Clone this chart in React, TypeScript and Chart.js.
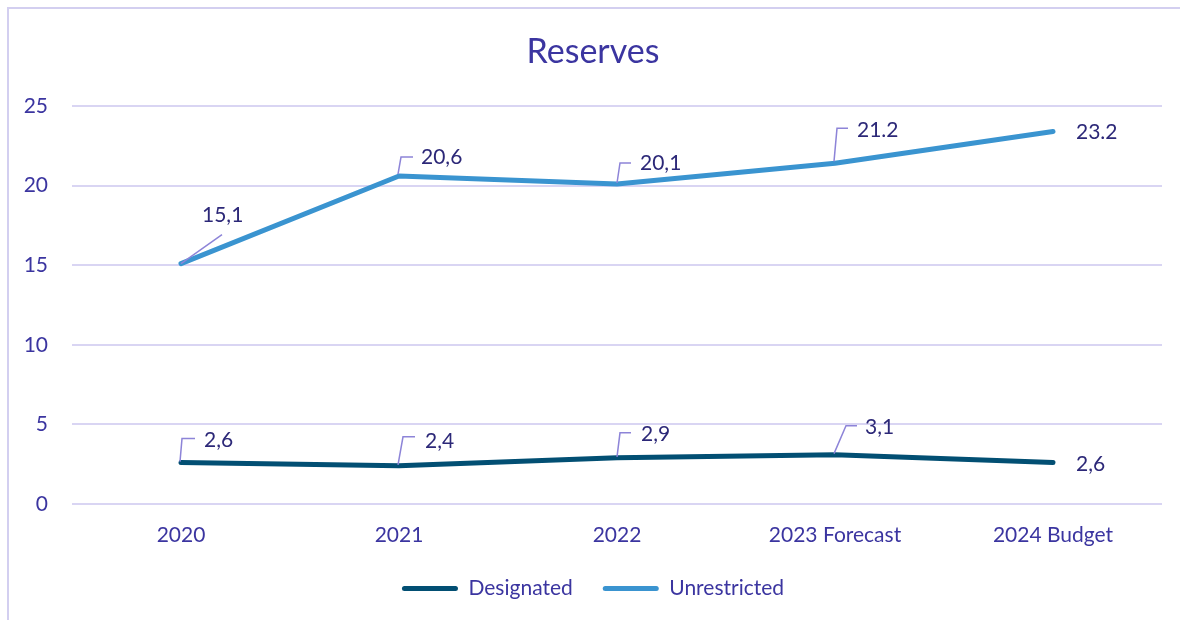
import React, { useEffect, useRef } from "react";
import { Chart, registerables } from "chart.js";

Chart.register(...registerables);

const categories = ["2020", "2021", "2022", "2023 Forecast", "2024 Budget"];
const designated = [2.6, 2.4, 2.9, 3.1, 2.6];
const unrestricted = [15.1, 20.6, 20.1, 21.4, 23.4];
const designatedLabels = ["2,6", "2,4", "2,9", "3,1", "2,6"];
const unrestrictedLabels = ["15,1", "20,6", "20,1", "21.2", "23.2"];
const yMin = 0;
const yMax = 25;
const yStep = 5;

const FONT = "Lato, 'Open Sans', sans-serif";
const TEXT = "#3b35a0";
const LABEL_TEXT = "#2c2878";
const LEADER = "#8d84d8";
const GRID = "#d9d5f3";
const DESIGNATED_COLOR = "#024f73";
const UNRESTRICTED_COLOR = "#3a94d0";

type Place = { dx: number; dy: number; leader: number[][] };

// label placement (style only): text left/center offset and leader polyline relative to point
const designatedPlace: Place[] = [
  { dx: 23, dy: -22, leader: [[-1, -1], [1, -24], [14, -24]] },
  { dx: 26, dy: -25, leader: [[-1, -1], [4, -29], [16, -29]] },
  { dx: 24, dy: -24, leader: [[0, -1], [3, -25], [14, -25]] },
  { dx: 30, dy: -27, leader: [[-1, -1], [11, -29], [22, -29]] },
  { dx: 23, dy: 2, leader: [] },
];
const unrestrictedPlace: Place[] = [
  { dx: 21, dy: -48, leader: [[0, 0], [41, -29]] },
  { dx: 22, dy: -19, leader: [[-1, -2], [2, -19], [14, -19]] },
  { dx: 23, dy: -21, leader: [[0, -1], [3, -21], [14, -21]] },
  { dx: 22, dy: -33, leader: [[-1, -2], [2, -35], [13, -35]] },
  { dx: 23, dy: 1, leader: [] },
];

const dataLabelPlugin = {
  id: "dataLabels",
  afterDatasetsDraw(chart: any) {
    const ctx = chart.ctx;
    const sets = [
      { labels: designatedLabels, place: designatedPlace },
      { labels: unrestrictedLabels, place: unrestrictedPlace },
    ];
    ctx.save();
    sets.forEach((s, di) => {
      const meta = chart.getDatasetMeta(di);
      meta.data.forEach((pt: any, i: number) => {
        const p = s.place[i];
        if (p.leader.length > 1) {
          ctx.beginPath();
          ctx.strokeStyle = LEADER;
          ctx.lineWidth = 1.5;
          p.leader.forEach((q, k) => {
            const x = pt.x + q[0];
            const y = pt.y + q[1];
            if (k === 0) ctx.moveTo(x, y);
            else ctx.lineTo(x, y);
          });
          ctx.stroke();
        }
        ctx.fillStyle = LABEL_TEXT;
        ctx.font = `21px ${FONT}`;
        ctx.textAlign = "left";
        ctx.textBaseline = "middle";
        ctx.fillText(s.labels[i], pt.x + p.dx, pt.y + p.dy);
      });
    });
    ctx.restore();
  },
};

export default function App() {
  const ref = useRef<HTMLCanvasElement | null>(null);

  useEffect(() => {
    if (!ref.current) return;
    const chart = new Chart(ref.current, {
      type: "line",
      data: {
        labels: categories,
        datasets: [
          {
            label: "Designated",
            data: designated,
            borderColor: DESIGNATED_COLOR,
            backgroundColor: DESIGNATED_COLOR,
            borderWidth: 5,
            pointRadius: 0,
            borderCapStyle: "round",
            borderJoinStyle: "round",
            tension: 0,
          },
          {
            label: "Unrestricted",
            data: unrestricted,
            borderColor: UNRESTRICTED_COLOR,
            backgroundColor: UNRESTRICTED_COLOR,
            borderWidth: 5,
            pointRadius: 0,
            borderCapStyle: "round",
            borderJoinStyle: "round",
            tension: 0,
          },
        ],
      },
      options: {
        responsive: false,
        animation: false,
        layout: { padding: { left: 24, right: 18, top: 0, bottom: 11 } },
        plugins: {
          tooltip: { enabled: false },
          title: {
            display: true,
            text: "Reserves",
            color: TEXT,
            font: { family: FONT, size: 34, weight: "normal" },
            padding: { top: 31.6, bottom: 33.6 },
          },
          legend: {
            display: true,
            position: "bottom",
            labels: {
              color: TEXT,
              font: { family: FONT, size: 21 },
              boxWidth: 56,
              boxHeight: 5,
              padding: 30,
              useBorderRadius: true,
              borderRadius: 2.5,
              generateLabels: (c: any) =>
                c.data.datasets.map((ds: any, i: number) => ({
                  text: ds.label,
                  fillStyle: ds.borderColor,
                  strokeStyle: ds.borderColor,
                  lineWidth: 0,
                  hidden: false,
                  datasetIndex: i,
                  fontColor: TEXT,
                  borderRadius: 2.5,
                })),
            },
          },
        },
        scales: {
          x: {
            offset: true,
            grid: { display: false, drawTicks: false },
            border: { display: false },
            ticks: {
              color: TEXT,
              font: { family: FONT, size: 21 },
              padding: 18.4,
              maxRotation: 0,
            },
            afterFit: (s: any) => {
              s.height = 44;
            },
          },
          y: {
            min: yMin,
            max: yMax,
            grid: { color: GRID, lineWidth: 2, drawTicks: false },
            border: { display: false },
            ticks: {
              stepSize: yStep,
              color: TEXT,
              font: { family: FONT, size: 21 },
              padding: 24,
            },
            afterFit: (s: any) => {
              s.width = 48;
            },
          },
        },
      },
      plugins: [dataLabelPlugin],
    } as any);
    return () => chart.destroy();
  }, []);

  return (
    <div
      style={{
        position: "fixed",
        left: 0,
        top: 0,
        width: 1180,
        height: 620,
        overflow: "hidden",
        background: "#ffffff",
      }}
    >
      <div
        style={{
          position: "absolute",
          left: 7,
          top: 7,
          width: 1300,
          height: 800,
          border: "2px solid #d3cff0",
          boxSizing: "border-box",
        }}
      />
      <canvas
        ref={ref}
        width={1180}
        height={620}
        style={{ position: "absolute", left: 0, top: 0 }}
      />
    </div>
  );
}
